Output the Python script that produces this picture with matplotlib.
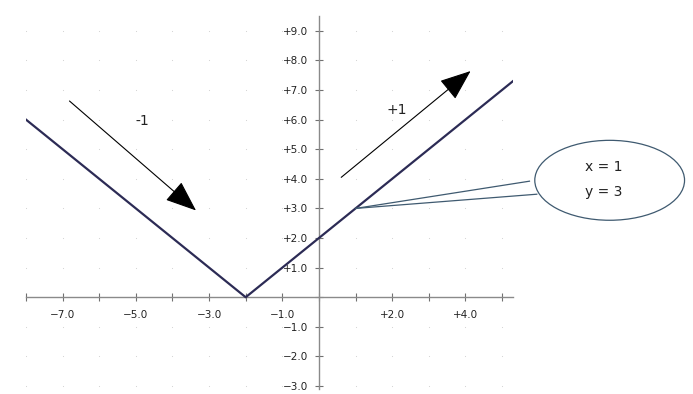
import numpy as np
import matplotlib
matplotlib.use("Agg")
import matplotlib.pyplot as plt
from matplotlib.patches import Ellipse, Polygon

# curve y = |x + 2| sampled at its corner points
line_x = [-8.0, -2.0, 5.3]
line_y = [6.0, 0.0, 7.3]

xticks = list(range(-8, 6))
xlabels_at = [-7, -5, -3, -1, 2, 4]
yticks = list(range(-3, 10))

arrow_down = ((-6.87, 6.69), (-3.30, 2.87))
arrow_up = ((0.55, 3.99), (4.20, 7.70))
label_down = (-4.83, 5.95, "-1")
label_up = (2.13, 6.32, "+1")

point = (1, 3)
bubble_center = (7.94, 3.95)
bubble_size = (4.09, 2.70)
tail_ends = [(5.75, 3.92), (5.95, 3.48)]


def fmt(v):
    return ("+%.1f" % v) if v > 0 else ("\u2212%.1f" % abs(v))


fig = plt.figure(figsize=(6.93, 3.94), dpi=100)
ax = fig.add_axes([26 / 693, 5 / 394, (513 - 26) / 693, (389 - 16) / 394])
ax.set_xlim(-8, 5.3)
ax.set_ylim(-3.1, 9.5)

# dotted grid at integer intersections
gx, gy = np.meshgrid(xticks, yticks)
ax.scatter(gx.ravel(), gy.ravel(), s=0.6, color="#d0d0d0", zorder=0, lw=0)

for s in ("top", "right"):
    ax.spines[s].set_visible(False)
ax.spines["left"].set_position(("data", 0))
ax.spines["bottom"].set_position(("data", 0))
for s in ("left", "bottom"):
    ax.spines[s].set_color("#8a8a8a")
    ax.spines[s].set_linewidth(1.0)

ax.set_xticks(xticks)
ax.set_xticklabels([fmt(t) if t in xlabels_at else "" for t in xticks])
ax.set_yticks(yticks)
ax.set_yticklabels(["" if t == 0 else fmt(t) for t in yticks])
ax.tick_params(axis="both", direction="inout", length=6, width=0.8,
               color="#707070", labelsize=7.5, labelcolor="#222222")
ax.tick_params(axis="x", pad=6)
ax.tick_params(axis="y", pad=5)

ax.plot(line_x, line_y, color="#2c2b55", lw=1.6, zorder=3)

for (x0, y0), (x1, y1) in (arrow_down, arrow_up):
    ax.annotate("", xy=(x1, y1), xytext=(x0, y0),
                arrowprops=dict(arrowstyle="-|>,head_length=1.4,head_width=0.55",
                                color="black", lw=0.8, mutation_scale=14))
for x, y, t in (label_down, label_up):
    ax.text(x, y, t, fontsize=10, ha="center", va="center", color="#222222")

# callout bubble
edge = "#3f5a70"
ell = Ellipse(bubble_center, bubble_size[0], bubble_size[1], facecolor="white",
              edgecolor=edge, lw=0.9, clip_on=False, zorder=4)
ax.add_patch(ell)
tri = Polygon([point, tail_ends[0], tail_ends[1]], closed=True, facecolor="white",
              edgecolor="none", clip_on=False, zorder=5)
ax.add_patch(tri)
for ex, ey in tail_ends:
    ax.plot([point[0], ex], [point[1], ey], color=edge, lw=0.9,
            clip_on=False, zorder=6)
ax.text(bubble_center[0] - 0.15, bubble_center[1] + 0.45, "x = %d" % point[0],
        fontsize=10, ha="center", va="center", zorder=7, color="#222222")
ax.text(bubble_center[0] - 0.15, bubble_center[1] - 0.4, "y = %d" % point[1],
        fontsize=10, ha="center", va="center", zorder=7, color="#222222")

fig.savefig("out.png", dpi=100)
